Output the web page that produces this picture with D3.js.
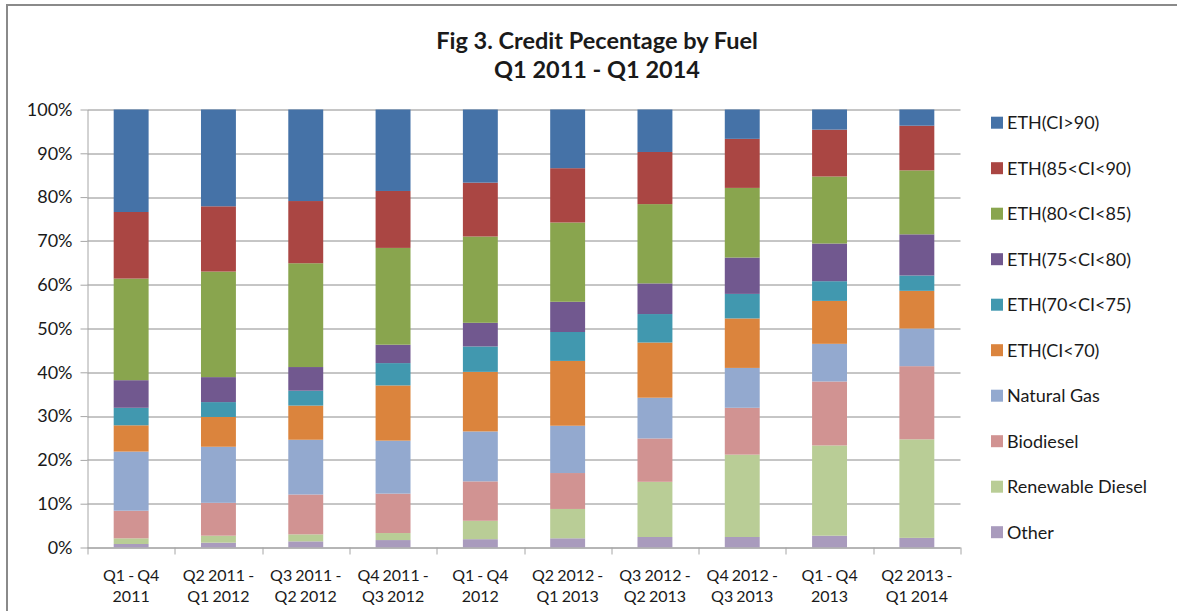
<!DOCTYPE html>
<html>
<head>
<meta charset="utf-8">
<script src="https://cdn.jsdelivr.net/npm/d3@7"></script>
<style>
body{margin:0;background:#fff;}
text{font-family:Lato,"Open Sans",sans-serif;fill:#1a1a1a;}
</style>
</head>
<body>
<svg width="1177" height="611"></svg>
<script>
;(function(){

    // categories (two-line labels)
    var categories = ["Q1 - Q4|2011","Q2 2011 -|Q1 2012","Q3 2011 -|Q2 2012","Q4 2011 -|Q3 2012","Q1 - Q4|2012",
                      "Q2 2012 -|Q1 2013","Q3 2012 -|Q2 2013","Q4 2012 -|Q3 2013","Q1 - Q4|2013","Q2 2013 -|Q1 2014"];

    // series values in percent, bottom of stack first
    var other      = [0.8, 1.1, 1.4, 1.7, 1.9, 2.1, 2.4, 2.4, 2.7, 2.2];
    var renewDies  = [1.3, 1.6, 1.6, 1.6, 4.2, 6.7, 12.6, 18.8, 20.6, 22.5];
    var biodiesel  = [6.3, 7.5, 9.1, 9.0, 9.0, 8.2, 9.9, 10.7, 14.6, 16.7];
    var natGas     = [13.5, 12.8, 12.5, 12.1, 11.4, 10.8, 9.3, 9.1, 8.6, 8.6];
    var ethLt70    = [6.0, 6.8, 7.8, 12.6, 13.6, 14.8, 12.6, 11.3, 9.8, 8.6];
    var eth70_75   = [4.0, 3.4, 3.4, 5.1, 5.8, 6.6, 6.5, 5.6, 4.5, 3.5];
    var eth75_80   = [6.3, 5.7, 5.4, 4.2, 5.4, 6.9, 7.0, 8.3, 8.6, 9.4];
    var eth80_85   = [23.2, 24.1, 23.7, 22.1, 19.7, 18.1, 18.1, 15.9, 15.3, 14.6];
    var eth85_90   = [15.2, 14.9, 14.2, 13.0, 12.3, 12.4, 11.9, 11.2, 10.7, 10.2];
    var ethGt90    = [23.4, 22.1, 20.9, 18.6, 16.7, 13.4, 9.7, 6.7, 4.6, 3.7];

    var seriesNames = ["Other","Renewable Diesel","Biodiesel","Natural Gas","ETH(CI<70)",
                       "ETH(70<CI<75)","ETH(75<CI<80)","ETH(80<CI<85)","ETH(85<CI<90)","ETH(CI>90)"];
    var seriesVals  = [other, renewDies, biodiesel, natGas, ethLt70, eth70_75, eth75_80, eth80_85, eth85_90, ethGt90];
    var colors      = ["#A99BBD","#B9CD96","#D19392","#93A9CF","#DB843D",
                       "#4198AF","#71588F","#89A54E","#AA4643","#4572A7"];

    var yTicks = [0,10,20,30,40,50,60,70,80,90,100];

    var svg = d3.select("svg"),
        margin = {top: 109.5, left: 87.5},
        width = 873,
        height = 438,
        g = svg.append("g").attr("transform","translate(" + margin.left + "," + margin.top + ")");

    // outer frame
    svg.append("rect")
        .attr("x",7).attr("y",5).attr("width",1180).attr("height",640)
        .attr("fill","none").attr("stroke","#8a8a8a").attr("stroke-width",2);

    // title
    var title = svg.append("text")
        .attr("text-anchor","middle")
        .style("font-weight","bold")
        .style("font-size","23.5px");
    title.append("tspan").attr("x",597).attr("y",49).text("Fig 3. Credit Pecentage by Fuel");
    title.append("tspan").attr("x",597).attr("y",78).text("Q1 2011 - Q1 2014");

    // build table for stacking
    var table = categories.map(function(c,i){
        var row = {cat: c};
        seriesNames.forEach(function(n,k){ row[n] = seriesVals[k][i]; });
        return row;
    });

    var stack = d3.stack().keys(seriesNames);
    var layers = stack(table);

    var x = d3.scaleBand()
        .domain(categories)
        .range([0, width])
        .paddingInner(0.6)
        .paddingOuter(0.3);

    var y = d3.scaleLinear()
        .domain([0,100])
        .range([height,0]);

    // gridlines
    g.selectAll(".grid")
        .data(yTicks)
        .enter().append("line")
        .attr("x1",0).attr("x2",width)
        .attr("y1",function(d){ return Math.round(y(d)) + 0.5; })
        .attr("y2",function(d){ return Math.round(y(d)) + 0.5; })
        .attr("stroke","#8c8c8c")
        .attr("stroke-width",1);

    // bars
    var layer = g.selectAll(".layer")
        .data(layers)
        .enter().append("g")
        .attr("fill",function(d,i){ return colors[i]; });

    layer.selectAll("rect")
        .data(function(d){ return d; })
        .enter().append("rect")
        .attr("x",function(d){ return x(d.data.cat); })
        .attr("width",x.bandwidth())
        .attr("y",function(d){ return y(d[1]); })
        .attr("height",function(d){ return y(d[0]) - y(d[1]); });

    // y axis
    var yAxis = d3.axisLeft(y)
        .tickValues(yTicks)
        .tickSizeInner(7)
        .tickSizeOuter(0)
        .tickPadding(8)
        .tickFormat(function(d){ return d + "%"; });

    var ya = g.append("g").call(yAxis);
    ya.select(".domain").attr("stroke","#a6a6a6");
    ya.selectAll(".tick line").attr("stroke","#a6a6a6");
    ya.selectAll("text").style("font-size","18px").attr("fill","#1a1a1a");

    // x axis with ticks between categories
    var xb = d3.scaleLinear().domain([0,categories.length]).range([0,width]);
    var xa = g.append("g").attr("transform","translate(0," + height + ")");
    xa.append("line").attr("x1",0).attr("x2",width).attr("y1",0.5).attr("y2",0.5).attr("stroke","#a6a6a6");
    xa.selectAll(".xtick")
        .data(d3.range(categories.length + 1))
        .enter().append("line")
        .attr("x1",function(d){ return Math.round(xb(d)) + 0.5; })
        .attr("x2",function(d){ return Math.round(xb(d)) + 0.5; })
        .attr("y1",0).attr("y2",7)
        .attr("stroke","#a6a6a6");

    var xl = xa.selectAll(".xlab")
        .data(categories)
        .enter().append("text")
        .attr("text-anchor","middle")
        .style("font-size","16px")
        .style("word-spacing","-1px");
    xl.append("tspan")
        .attr("x",function(d){ return x(d) + x.bandwidth()/2; })
        .attr("y",33)
        .text(function(d){ return d.split("|")[0]; });
    xl.append("tspan")
        .attr("x",function(d){ return x(d) + x.bandwidth()/2; })
        .attr("y",54)
        .text(function(d){ return d.split("|")[1]; });

    // legend, top entry is the top of the stack
    var legendOrder = seriesNames.slice().reverse();
    var legend = svg.selectAll(".legend")
        .data(legendOrder)
        .enter().append("g")
        .attr("transform",function(d,i){ return "translate(991," + (122.7 + i*45.5) + ")"; });

    legend.append("rect")
        .attr("x",0).attr("y",-6)
        .attr("width",12).attr("height",12)
        .attr("fill",function(d){ return colors[seriesNames.indexOf(d)]; });

    legend.append("text")
        .attr("x",16)
        .attr("dy","0.35em")
        .style("font-size","18px")
        .text(function(d){ return d; });

}());
</script>
</body>
</html>
